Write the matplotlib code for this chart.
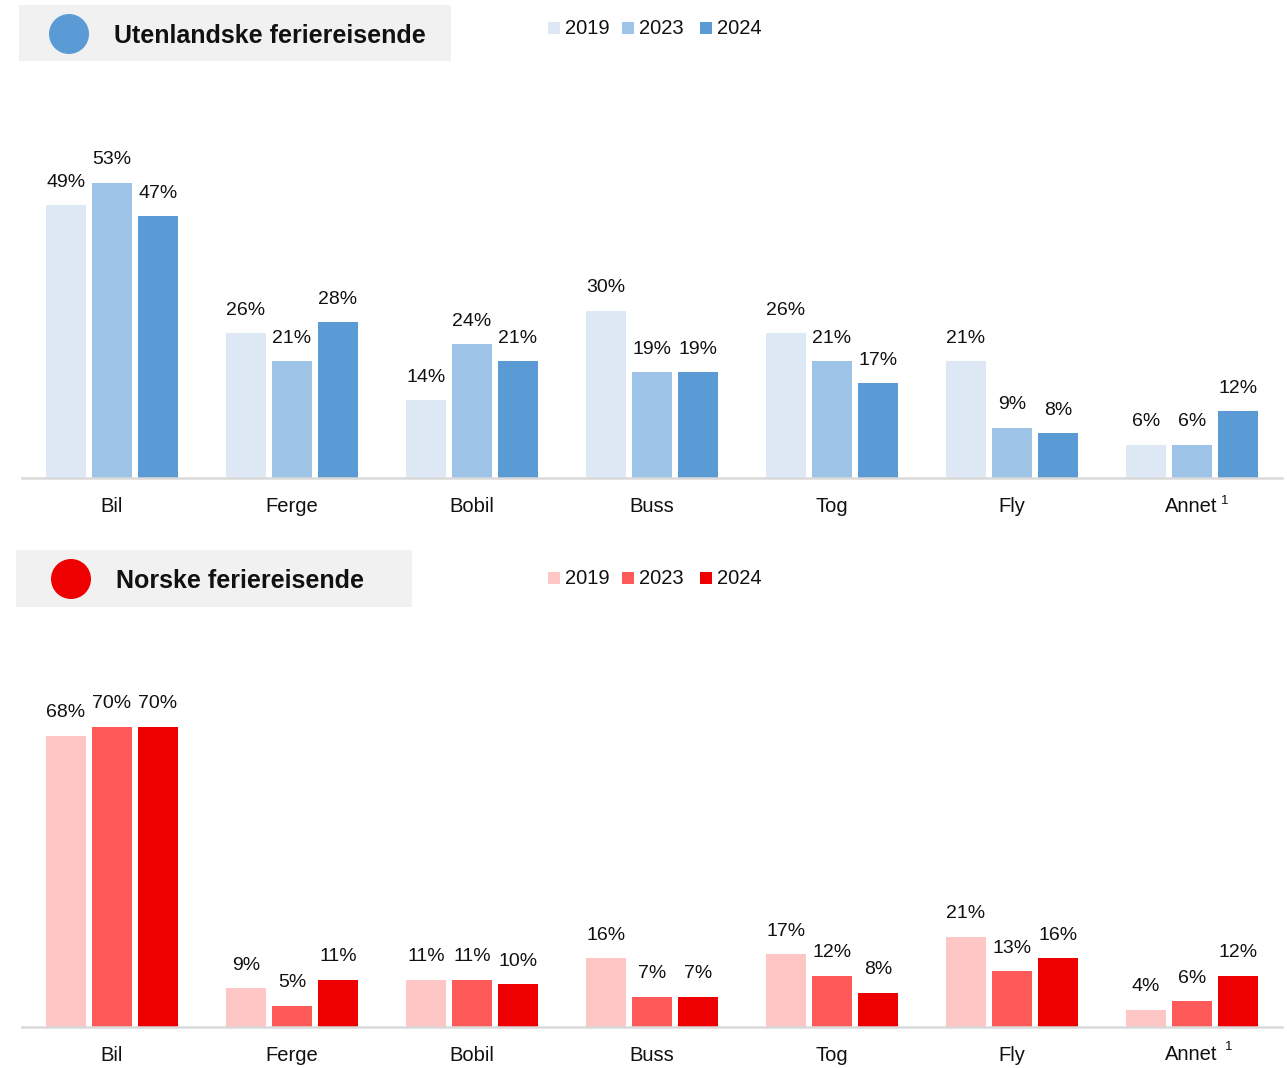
import matplotlib
matplotlib.use("Agg")
import matplotlib.pyplot as plt
from matplotlib.patches import Rectangle, Circle
import numpy as np

plt.rcParams['font.family'] = ['Liberation Sans', 'DejaVu Sans']

categories = ["Bil", "Ferge", "Bobil", "Buss", "Tog", "Fly", "Annet"]
years = ["2019", "2023", "2024"]
foreign_2019 = [49, 26, 14, 30, 26, 21, 6]
foreign_2023 = [53, 21, 24, 19, 21, 9, 6]
foreign_2024 = [47, 28, 21, 19, 17, 8, 12]
norw_2019 = [68, 9, 11, 16, 17, 21, 4]
norw_2023 = [70, 5, 11, 7, 12, 13, 6]
norw_2024 = [70, 11, 10, 7, 8, 16, 12]

blue_colors = ["#dde8f4", "#9dc3e6", "#5b9bd5"]
red_colors = ["#ffc6c6", "#ff5a5a", "#ee0000"]

W, H = 1287, 1068
fig = plt.figure(figsize=(W / 100, H / 100), dpi=100)

def px_axes(left, top, right, bottom):
    return fig.add_axes([left / W, (H - bottom) / H, (right - left) / W, (bottom - top) / H])

# overlay axes in pixel coords
ov = fig.add_axes([0, 0, 1, 1])
ov.set_xlim(0, W)
ov.set_ylim(H, 0)
ov.axis("off")
ov.patch.set_alpha(0)

TXT = "#111111"

def draw_panel(top_px, base_px, ymax, series, colors, title, box, circ, legend_y, sup):
    ax = px_axes(22, top_px, 1282, base_px)
    ax.set_xlim(-0.5, 6.5)
    ax.set_ylim(0, ymax)
    x = np.arange(len(categories))
    width = 40 / 180
    off = 46 / 180
    for i, (vals, col) in enumerate(zip(series, colors)):
        xs = x + (i - 1) * off
        ax.bar(xs, vals, width=width, color=col, zorder=2)
        for xi, v in zip(xs, vals):
            ax.annotate(f"{v}%", (xi, v), xytext=(0, 23 * 0.72), textcoords="offset points",
                        ha="center", va="center", fontsize=14, color=TXT,
                        annotation_clip=False)
    for s in ["top", "right", "left"]:
        ax.spines[s].set_visible(False)
    ax.spines["bottom"].set_color("#d9d9d9")
    ax.spines["bottom"].set_linewidth(1.8)
    ax.set_yticks([])
    ax.set_xticks(x)
    ax.set_xticklabels([c if c != "Annet" else "" for c in categories], fontsize=14.5, color=TXT)
    ax.tick_params(axis="x", length=0, pad=14)
    ax.patch.set_alpha(0)
    # Annet with superscript
    ov.text(1191, base_px + 28, "Annet", ha="center", va="center", fontsize=14.5, color=TXT)
    ov.text(sup[0], sup[1], "1", ha="center", va="center", fontsize=9.5, color=TXT)
    # title box
    bx0, by0, bx1, by1 = box
    ov.add_patch(Rectangle((bx0, by0), bx1 - bx0, by1 - by0, facecolor="#f1f1f1", edgecolor="none"))
    cx, cy = circ
    ov.add_patch(Circle((cx, cy), 20, facecolor=colors[2], edgecolor="none"))
    ov.text(cx + 45, cy + 2, title, ha="left", va="center", fontsize=18, fontweight="bold", color=TXT)
    # legend
    for lx, yr, col in zip([548, 622, 700], years, colors):
        ov.add_patch(Rectangle((lx, legend_y - 6), 12, 12, facecolor=col, edgecolor="none"))
        ov.text(lx + 17, legend_y + 1, yr, ha="left", va="center", fontsize=14.5, color=TXT)

draw_panel(144, 478, 60, [foreign_2019, foreign_2023, foreign_2024], blue_colors,
           "Utenlandske feriereisende", (19, 5, 451, 61), (69, 34), 28, (1225, 501))
draw_panel(1027 - 80 * 300 / 70, 1027, 80, [norw_2019, norw_2023, norw_2024], red_colors,
           "Norske feriereisende", (16, 550, 412, 607), (71, 579), 578, (1229, 1047))

fig.savefig("out.png", dpi=100)
